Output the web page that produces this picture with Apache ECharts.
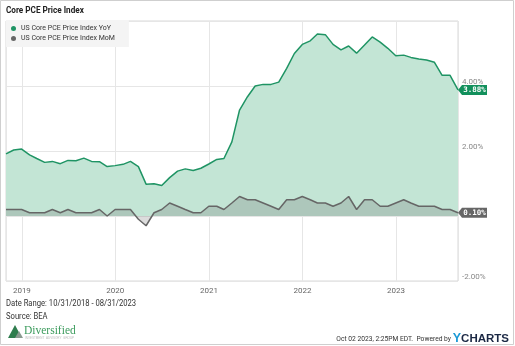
<!DOCTYPE html>
<html>
<head>
<meta charset="utf-8">
<title>Core PCE Price Index</title>
<script src="https://cdn.jsdelivr.net/npm/echarts@6/dist/echarts.min.js"></script>
<style>
  html, body { margin: 0; padding: 0; background: #fff; }
  #chart { width: 515px; height: 346px; }
</style>
</head>
<body>
<div id="chart"></div>
<script>
// Monthly observations, Oct 2018 - Aug 2023 (month-end dates)
const startYear = 2018, startMonth = 10, monthCount = 59;

// US Core PCE Price Index, year-over-year change (%)
const yoyValues = [
  1.91, 2.03, 2.06,
  1.88, 1.77, 1.65, 1.68, 1.61, 1.71, 1.70, 1.78, 1.68, 1.67, 1.52, 1.55,
  1.59, 1.68, 1.52, 0.98, 0.99, 0.94, 1.18, 1.38, 1.45, 1.40, 1.47, 1.60,
  1.74, 1.77, 2.28, 3.26, 3.67, 4.00, 4.05, 4.05, 4.12, 4.54, 5.00, 5.28,
  5.39, 5.60, 5.58, 5.28, 5.11, 5.23, 5.01, 5.26, 5.51, 5.35, 5.16, 4.93,
  4.95, 4.88, 4.83, 4.80, 4.73, 4.33, 4.33, 3.88
];

// US Core PCE Price Index, month-over-month change (%)
const momValues = [
  0.2, 0.2, 0.2,
  0.1, 0.1, 0.1, 0.2, 0.1, 0.2, 0.1, 0.1, 0.1, 0.2, 0.0, 0.2,
  0.2, 0.2, -0.1, -0.3, 0.1, 0.2, 0.4, 0.3, 0.2, 0.1, 0.1, 0.3,
  0.3, 0.2, 0.4, 0.6, 0.5, 0.5, 0.4, 0.3, 0.2, 0.5, 0.5, 0.6,
  0.5, 0.4, 0.4, 0.3, 0.4, 0.6, 0.2, 0.5, 0.5, 0.3, 0.3, 0.4,
  0.5, 0.4, 0.3, 0.3, 0.3, 0.2, 0.2, 0.1
];

const seriesNames = ['US Core PCE Price Index YoY', 'US Core PCE Price Index MoM'];
const yTicks = [-2, 0, 2, 4, 6];
const hiddenYTicks = [0, 6];

const titleText = 'Core PCE Price Index';
const dateRangeText = 'Date Range: 10/31/2018 - 08/31/2023';
const sourceText = 'Source: BEA';
const stampText = 'Oct 02 2023, 2:25PM EDT.  Powered by';

function pad(n) { return (n < 10 ? '0' : '') + n; }
const dates = [];
for (let i = 0; i < monthCount; i++) {
  const m0 = startMonth - 1 + i;
  const y = startYear + Math.floor(m0 / 12);
  const m = m0 % 12;
  const last = new Date(y, m + 1, 0).getDate();
  dates.push(y + '-' + pad(m + 1) + '-' + pad(last));
}

const GREEN = '#1f9464';
const GREEN_TAG = '#12905c';
const GRAY = '#666666';
const FONT = 'Roboto, "Noto Sans", sans-serif';
const TAG_PATH = 'path://M0,5L4,0L29,0L29,10L4,10Z';

const yoyData = dates.map((d, i) => [d, yoyValues[i]]);
const momData = dates.map((d, i) => [d, momValues[i]]);

function endTag(data, color) {
  const last = data[data.length - 1];
  return {
    symbol: TAG_PATH,
    symbolSize: [29, 10],
    symbolOffset: [14.5, 0],
    itemStyle: { color: color },
    silent: true,
    label: {
      show: true,
      position: 'inside',
      offset: [2, 0.5],
      color: '#fff',
      fontSize: 7.5,
      fontWeight: 'bold',
      fontFamily: '"DejaVu Sans Mono", monospace',
      formatter: (p) => p.value.toFixed(2) + '%'
    },
    data: [{ coord: [last[0], last[1]], value: last[1] }]
  };
}

// condensed text drawn by horizontal scaling of a regular face
function squeezedText(x, y, text, font, fill, sx, align) {
  return {
    type: 'text', x: x, y: y, scaleX: sx, silent: true,
    style: { text: text, font: font, fill: fill, verticalAlign: 'middle', align: align || 'left' }
  };
}

const chart = echarts.init(document.getElementById('chart'), null, { renderer: 'canvas' });

chart.setOption({
  animation: false,
  backgroundColor: '#fff',
  textStyle: { fontFamily: FONT },
  grid: { left: 6, right: 57, top: 21, bottom: 65, show: true, borderColor: '#d8d8d8', borderWidth: 1 },
  legend: {
    data: seriesNames,
    orient: 'vertical',
    left: 6,
    top: 20,
    padding: [5, 14, 5, 5],
    itemGap: 3,
    itemWidth: 5,
    itemHeight: 5,
    icon: 'circle',
    backgroundColor: '#f4f4f4',
    selectedMode: false,
    textStyle: { fontSize: 7, color: '#333', fontFamily: FONT }
  },
  xAxis: {
    type: 'time',
    min: dates[0],
    max: dates[dates.length - 1],
    splitNumber: 5,
    minInterval: 365 * 24 * 3600 * 1000,
    axisLine: { show: false },
    axisTick: { show: false },
    splitLine: { show: true, lineStyle: { color: '#e6e6e6', width: 1 } },
    axisLabel: {
      color: '#666',
      fontSize: 8,
      margin: 6,
      fontFamily: FONT,
      showMinLabel: false,
      showMaxLabel: false,
      formatter: (val) => {
        const d = new Date(val);
        return (d.getMonth() === 0 && d.getDate() === 1) ? String(d.getFullYear()) : '';
      }
    }
  },
  yAxis: {
    type: 'value',
    position: 'right',
    min: yTicks[0],
    max: yTicks[yTicks.length - 1],
    interval: 2,
    axisLine: { show: false },
    axisTick: { show: false },
    splitLine: { show: true, lineStyle: { color: '#e6e6e6', width: 1 } },
    axisLabel: {
      color: '#888',
      fontSize: 8,
      margin: 4,
      verticalAlign: 'bottom',
      lineHeight: 9,
      fontFamily: FONT,
      formatter: (v) => hiddenYTicks.indexOf(v) >= 0 ? '' : v.toFixed(2) + '%'
    }
  },
  series: [
    {
      name: seriesNames[0],
      type: 'line',
      data: yoyData,
      symbol: 'none',
      itemStyle: { color: GREEN },
      lineStyle: { color: GREEN, width: 1.5 },
      areaStyle: { color: '#c3e5d5', opacity: 1 },
      z: 2,
      markPoint: endTag(yoyData, GREEN_TAG)
    },
    {
      name: seriesNames[1],
      type: 'line',
      data: momData,
      symbol: 'none',
      itemStyle: { color: GRAY },
      lineStyle: { color: GRAY, width: 1.5 },
      areaStyle: { color: 'rgba(95,95,95,0.22)', opacity: 1 },
      z: 3,
      markPoint: endTag(momData, GRAY)
    }
  ],
  graphic: [
    { type: 'rect', shape: { x: 0.5, y: 0.5, width: 513, height: 344 }, style: { fill: 'none', stroke: '#cfcfcf', lineWidth: 1 }, silent: true, z: -1 },
    squeezedText(6, 11, titleText, 'bold 9.5px ' + FONT, '#222', 0.86),
    squeezedText(6, 304, dateRangeText, '9px ' + FONT, '#333', 0.85),
    squeezedText(6, 317, sourceText, '9px ' + FONT, '#333', 0.85),
    // Diversified logo mark
    { type: 'polygon', shape: { points: [[8, 338], [15, 325], [22, 338]] }, style: { fill: '#2f7d4e' } },
    { type: 'polygon', shape: { points: [[15, 338], [19, 331], [23, 338]] }, style: { fill: '#8a9a90' } },
    { type: 'text', x: 24, y: 331, style: { text: 'Diversified', fill: '#3b9b5c', verticalAlign: 'middle', font: '11.5px "Liberation Serif", "DejaVu Serif", serif' } },
    { type: 'text', x: 25, y: 338.5, style: { text: 'INVESTMENT  ADVISORY  GROUP', fill: '#bbb', verticalAlign: 'middle', font: '3px sans-serif' } },
    squeezedText(451, 338.5, stampText, '8px ' + FONT, '#333', 0.835, 'right'),
    {
      type: 'text', right: 6, top: 332,
      style: {
        text: '{y|Y}{c|CHARTS}',
        rich: {
          y: { fill: '#1c9ad6', font: 'bold 12.5px "Liberation Sans", Roboto, sans-serif' },
          c: { fill: '#1b2844', font: 'bold 11.5px "Liberation Sans", Roboto, sans-serif' }
        }
      }
    }
  ]
});
</script>
</body>
</html>
